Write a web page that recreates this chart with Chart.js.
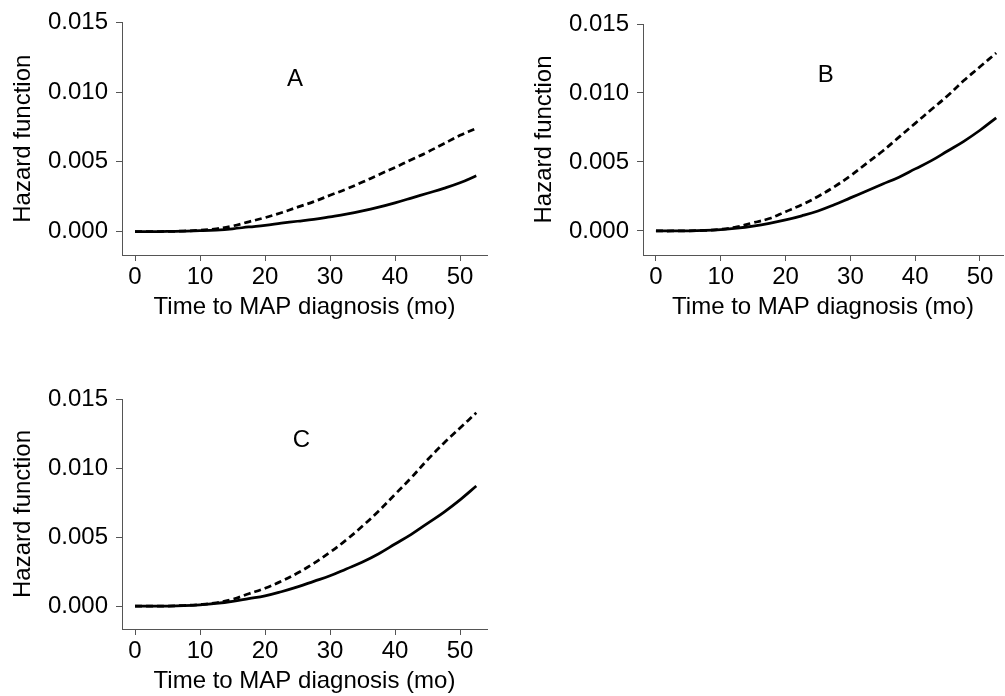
<!DOCTYPE html>
<html>
<head>
<meta charset="utf-8">
<script src="https://cdn.jsdelivr.net/npm/chart.js@4"></script>
<style>
  html, body { margin: 0; padding: 0; background: #fff; overflow: hidden; }
  body { width: 1005px; height: 696px; position: relative; }
  .panel { position: absolute; }
</style>
</head>
<body>
<div class="panel" style="left:0px;top:0px;width:500px;height:330px"><canvas id="chartA" width="500" height="330"></canvas></div>
<div class="panel" style="left:521px;top:0px;width:484px;height:330px"><canvas id="chartB" width="484" height="330"></canvas></div>
<div class="panel" style="left:0px;top:374px;width:500px;height:330px"><canvas id="chartC" width="500" height="330"></canvas></div>
<script>
// values (every 2.5 months)
const months = [0, 2.5, 5, 7.5, 10, 12.5, 15, 17.5, 20, 22.5, 25, 27.5, 30, 32.5, 35, 37.5, 40, 42.5, 45, 47.5, 50, 52.5];
const solidA  = [0, 0, 0.00001, 0.00003, 0.00006, 0.00011, 0.0002, 0.00033, 0.00045, 0.0006, 0.00074, 0.00088, 0.00106, 0.00125, 0.00148, 0.00175, 0.00206, 0.0024, 0.00275, 0.0031, 0.0035, 0.0040];
const dashedA = [0, 0, 0.00001, 0.00004, 0.0001, 0.0002, 0.0004, 0.0007, 0.001, 0.00135, 0.00175, 0.00215, 0.0026, 0.00305, 0.00355, 0.00408, 0.0046, 0.00515, 0.0057, 0.0063, 0.0069, 0.0074];
const solidB  = [0, 0, 0.00001, 0.00004, 0.0001, 0.0002, 0.00035, 0.00055, 0.0008, 0.0011, 0.00145, 0.0019, 0.0024, 0.0029, 0.0034, 0.0039, 0.0045, 0.0051, 0.0058, 0.0065, 0.0073, 0.0082];
const dashedB = [0, 0, 0.00001, 0.00004, 0.00012, 0.0003, 0.0006, 0.0009, 0.0014, 0.0019, 0.0025, 0.0032, 0.0040, 0.0049, 0.0058, 0.0068, 0.0078, 0.0088, 0.0098, 0.0109, 0.0119, 0.0129];
const solidC  = [0, 0, 0.00001, 0.00004, 0.0001, 0.0002, 0.00035, 0.00055, 0.00075, 0.00105, 0.0014, 0.0018, 0.0022, 0.0027, 0.0032, 0.0038, 0.0045, 0.0052, 0.0060, 0.0068, 0.0077, 0.0087];
const dashedC = [0, 0, 0.00001, 0.00005, 0.00012, 0.00025, 0.0005, 0.0009, 0.0013, 0.0018, 0.0024, 0.0031, 0.0039, 0.0048, 0.0058, 0.0069, 0.0081, 0.0093, 0.0106, 0.0118, 0.0129, 0.0140];
const xTicks = [0, 10, 20, 30, 40, 50];
const yTicks = [0, 0.005, 0.010, 0.015];
const xTitle = "Time to MAP diagnosis (mo)";
const yTitle = "Hazard function";

const FONT = '"Liberation Sans", Arial, sans-serif';
const AXIS = "#555";

// big panel letter, placed in data units
const letterPlugin = {
  id: "panelLetter",
  afterDatasetsDraw(chart, args, opts) {
    const { ctx, scales: { x, y } } = chart;
    ctx.save();
    ctx.font = "24px " + FONT;
    ctx.fillStyle = "#000";
    ctx.textAlign = "center";
    ctx.textBaseline = "middle";
    ctx.fillText(opts.text, x.getPixelForValue(opts.x), y.getPixelForValue(opts.y));
    ctx.restore();
  },
};

function toPoints(ys) {
  return months.map((m, i) => ({ x: m, y: ys[i] }));
}

function makePanel(id, solid, dashed, cfg) {
  return new Chart(document.getElementById(id), {
    type: "line",
    data: {
      datasets: [
        {
          data: toPoints(solid),
          borderColor: "#000",
          borderWidth: 2.75,
          pointRadius: 0,
          tension: 0.4,
        },
        {
          data: toPoints(dashed),
          borderColor: "#000",
          borderWidth: 2.75,
          borderDash: [7, 4],
          pointRadius: 0,
          tension: 0.4,
        },
      ],
    },
    plugins: [letterPlugin],
    options: {
      responsive: false,
      animation: false,
      events: [],
      layout: { padding: { left: 0, top: cfg.top, right: cfg.right, bottom: 0 } },
      plugins: {
        legend: { display: false },
        tooltip: { enabled: false },
        panelLetter: cfg.letter,
      },
      scales: {
        x: {
          type: "linear",
          min: cfg.xMin,
          max: cfg.xMax,
          afterBuildTicks: (s) => { s.ticks = xTicks.map((v) => ({ value: v })); },
          afterFit: (s) => { s.height = 75; },
          grid: { drawOnChartArea: false, drawTicks: true, tickLength: 6, color: AXIS },
          border: { display: true, color: AXIS, width: 1 },
          ticks: { color: "#000", font: { family: FONT, size: 24 }, padding: 2, maxRotation: 0 },
          title: {
            display: true,
            text: xTitle,
            color: "#000",
            font: { family: FONT, size: 24 },
            padding: { top: 0, bottom: 8 },
          },
        },
        y: {
          type: "linear",
          min: cfg.yMin,
          max: 0.015,
          afterBuildTicks: (s) => { s.ticks = yTicks.map((v) => ({ value: v })); },
          afterFit: (s) => { s.width = 122; },
          grid: { drawOnChartArea: false, drawTicks: true, tickLength: 6, color: AXIS },
          border: { display: true, color: AXIS, width: 1 },
          ticks: {
            color: "#000",
            font: { family: FONT, size: 24 },
            padding: 8,
            callback: (v) => v.toFixed(3),
          },
          title: {
            display: true,
            text: yTitle,
            color: "#000",
            font: { family: FONT, size: 24 },
            padding: { top: 9, bottom: 0 },
          },
        },
      },
    },
  });
}

makePanel("chartA", solidA, dashedA, {
  top: 17, right: 13, xMin: -2, xMax: 54.15, yMin: -0.00168,
  letter: { text: "A", x: 24.6, y: 0.0109 },
});
makePanel("chartB", solidB, dashedB, {
  top: 24, right: 2, xMin: -2, xMax: 53.55, yMin: -0.00174,
  letter: { text: "B", x: 26.2, y: 0.0113 },
});
makePanel("chartC", solidC, dashedC, {
  top: 25, right: 13, xMin: -2, xMax: 54.15, yMin: -0.00165,
  letter: { text: "C", x: 25.6, y: 0.0120 },
});
</script>
</body>
</html>
